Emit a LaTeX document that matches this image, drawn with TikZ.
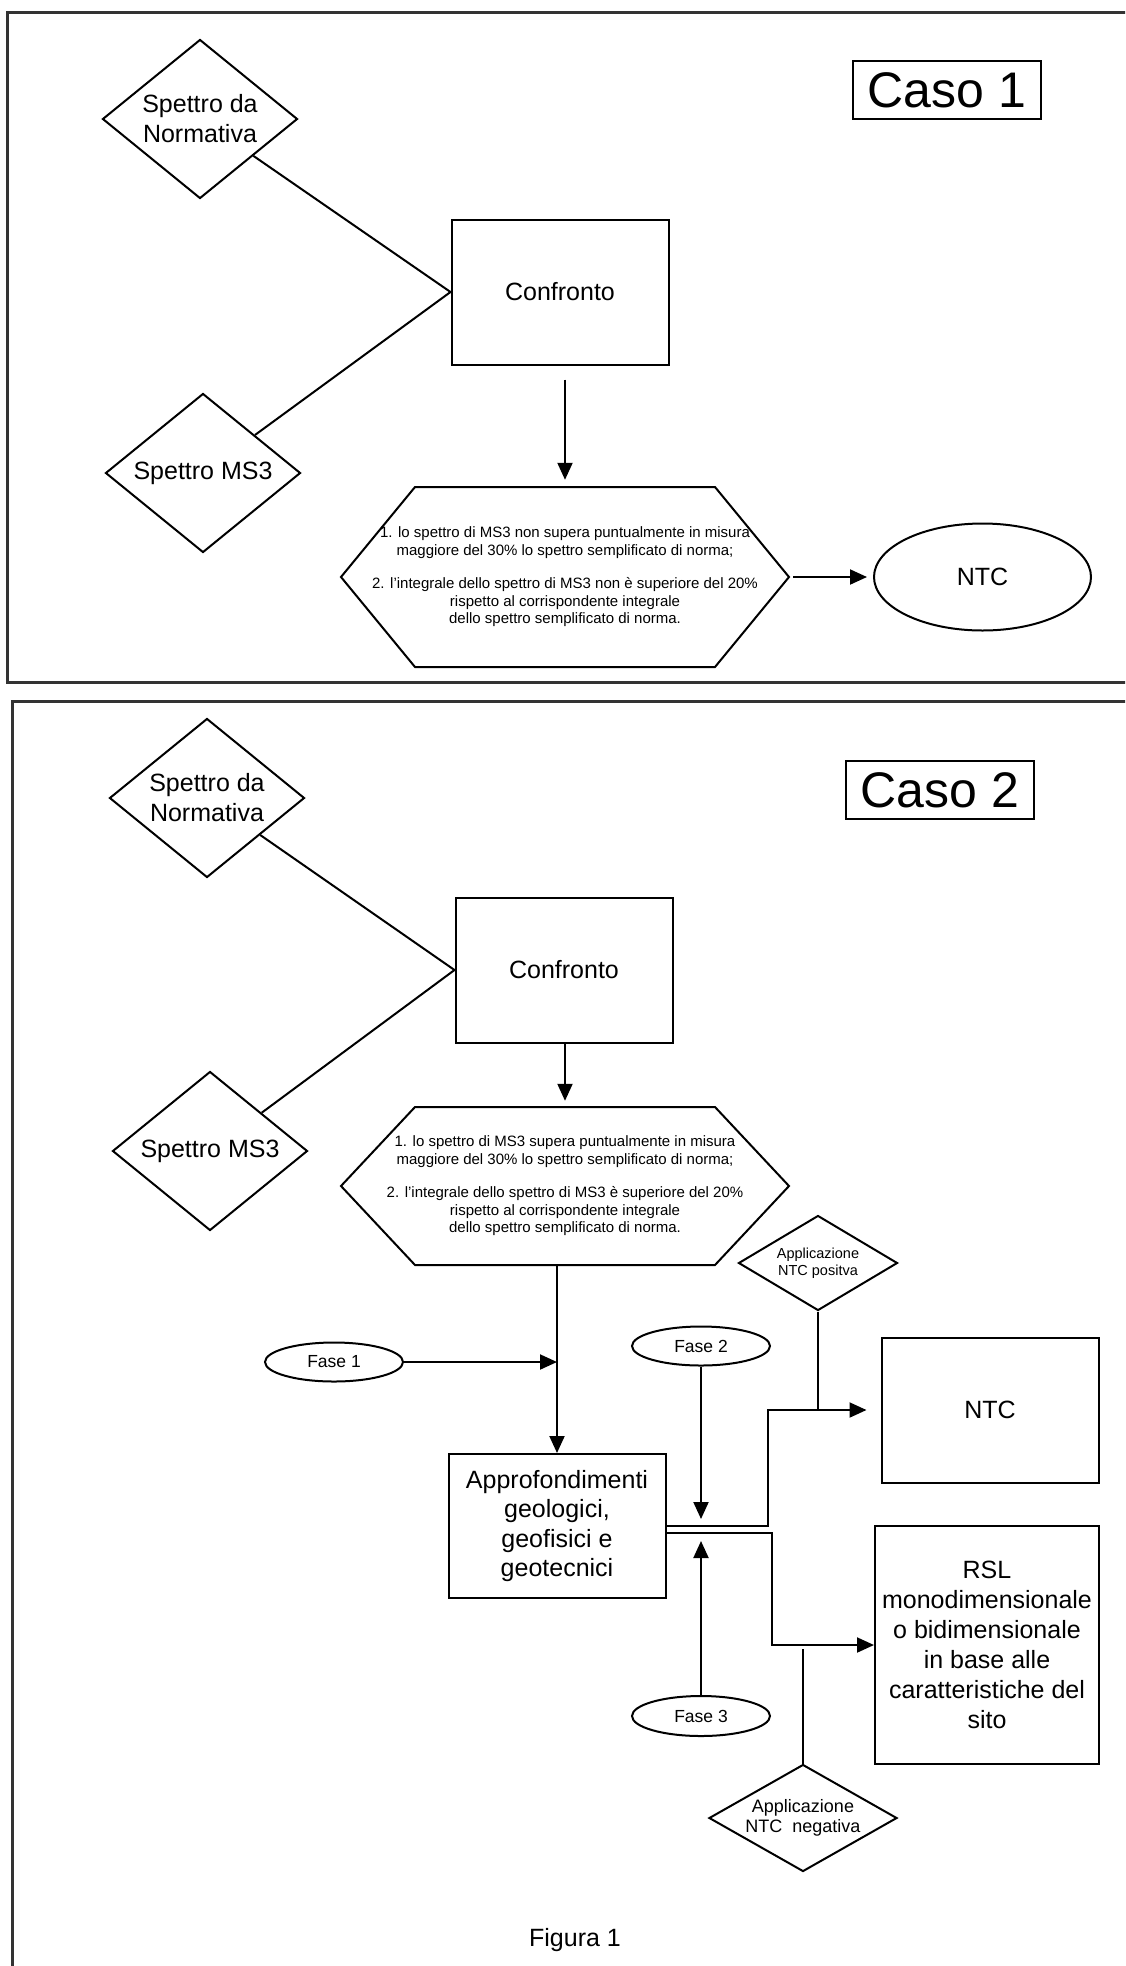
\documentclass[tikz,border=0pt]{standalone}
\usepackage{fontspec}
\setmainfont{Liberation Sans}
\usetikzlibrary{arrows.meta, positioning, shapes.geometric, calc}

\begin{document}
\begin{tikzpicture}[x=1pt,y=-1pt,font=\fontsize{25}{30}\selectfont,
    frm/.style={draw=black!80,line width=3pt},
    box/.style={draw,line width=2pt,minimum width=217pt,minimum height=145pt,align=center,inner sep=2pt},
    rmb/.style={draw,diamond,line width=2pt,minimum width=195pt,minimum height=159pt,aspect=1.23,inner sep=0pt,align=center},
    tag/.style={draw,line width=2pt,minimum width=188pt,minimum height=58pt,inner sep=0pt,font=\fontsize{50}{60}\selectfont},
    oval/.style={draw,ellipse,line width=2pt,minimum width=138pt,minimum height=39pt,inner sep=0pt,font=\fontsize{17.5}{21}\selectfont},
    hexa/.style={inner sep=0pt,align=center,font=\fontsize{15}{17.5}\selectfont},
    ln/.style={line width=2pt},
    arr/.style={-{Triangle[length=17pt,width=15pt]},line width=2pt}]
    \clip (0,0) rectangle (1125,1966);
    \fill[white] (0,0) rectangle (1125,1966);
    \draw[frm] (7,12) rectangle (1160,682);
    \draw[frm] (12,701) rectangle (1160,2010);

    \node[tag](caso1) at (947,90){Caso 1};
    \node[rmb](nor1) at (200,119){Spettro da\\Normativa};
    \node[rmb](ms1) at (203,473){Spettro MS3};
    \node[box](conf1) at (560,292){Confronto};
    \node[hexa,minimum height=180pt](hx1) at (565,577){1. lo spettro di MS3 non supera puntualmente in misura\\maggiore del 30\% lo spettro semplificato di norma;\\[16pt]2. l'integrale dello spettro di MS3 non è superiore del 20\%\\rispetto al corrispondente integrale\\dello spettro semplificato di norma.};
    \draw[ln] ($(hx1)+(-150,-90)$) -- ++(300,0) -- ++(74,90) -- ++(-74,90) -- ++(-300,0) -- ++(-74,-90) -- cycle;
    \coordinate (hx1e) at ($(hx1)+(226,0)$);
    \node[draw,ellipse,line width=2pt,minimum width=217pt,minimum height=107pt,right=82pt of hx1e](ntc1){NTC};
    \draw[ln](nor1)--(conf1.west)--(ms1);
    \draw[arr,shorten <=14pt,shorten >=7pt](hx1.north |- conf1.south)--(hx1.north);
    \draw[arr,shorten <=2pt,shorten >=6pt](hx1e)--(ntc1);

    \node[tag](caso2) at (940,790){Caso 2};
    \node[rmb](nor2) at (207,798){Spettro da\\Normativa};
    \node[rmb](ms2) at (210,1151){Spettro MS3};
    \node[box](conf2) at (564,970){Confronto};
    \node[hexa,minimum height=158pt](hx2) at (565,1186){1. lo spettro di MS3 supera puntualmente in misura\\maggiore del 30\% lo spettro semplificato di norma;\\[16pt]2. l'integrale dello spettro di MS3 è superiore del 20\%\\rispetto al corrispondente integrale\\dello spettro semplificato di norma.};
    \draw[ln] ($(hx2)+(-150,-79)$) -- ++(300,0) -- ++(74,79) -- ++(-74,79) -- ++(-300,0) -- ++(-74,-79) -- cycle;
    \node[rmb,minimum width=159pt,minimum height=95pt,aspect=1.67,font=\fontsize{14.5}{17}\selectfont](pos) at (818,1263){Applicazione\\NTC positva};
    \node[oval](fase1) at (334,1362){Fase 1};
    \node[oval](fase2) at (701,1346){Fase 2};
    \node[box,minimum height=144pt,font=\fontsize{25}{29.5}\selectfont](appr) at (557,1526){Approfondimenti\\geologici,\\geofisici e\\geotecnici};
    \node[box](ntc2) at (990,1410){NTC};
    \node[box,minimum width=224pt,minimum height=238pt](rsl) at (987,1645){RSL\\monodimensionale\\o bidimensionale\\in base alle\\caratteristiche del\\sito};
    \node[oval,minimum height=40pt](fase3) at (701,1716){Fase 3};
    \node[rmb,minimum width=188pt,minimum height=107pt,aspect=1.76,font=\fontsize{18}{20}\selectfont](neg) at (803,1818){Applicazione\\NTC\ \ negativa};
    \node(fig) at (575,1940){Figura 1};

    \draw[ln](nor2)--(conf2.west)--(ms2);
    \draw[arr,shorten >=6pt](hx2.north |- conf2.south)--(hx2.north);
    \draw[arr](appr.north |- hx2.south)--(appr.north);
    \draw[arr](fase1)--(fase1 -| appr.north);
    \draw[arr,shorten >=7pt](fase2)--(fase2 |- appr.east);
    \draw[arr,shorten >=8pt](fase3)--($(fase3 |- appr.east)+(0,7)$);
    \draw[arr,shorten >=14pt](appr.east)--++(101,0)|-(ntc2.west);
    \draw[arr]([yshift=-7pt]appr.east)--++(105,0)|-(rsl.west);
    \draw[ln](pos)--(pos |- ntc2.west);
    \draw[ln,shorten >=4pt](neg)--(neg |- rsl.west);
  \end{tikzpicture}
\end{document}
